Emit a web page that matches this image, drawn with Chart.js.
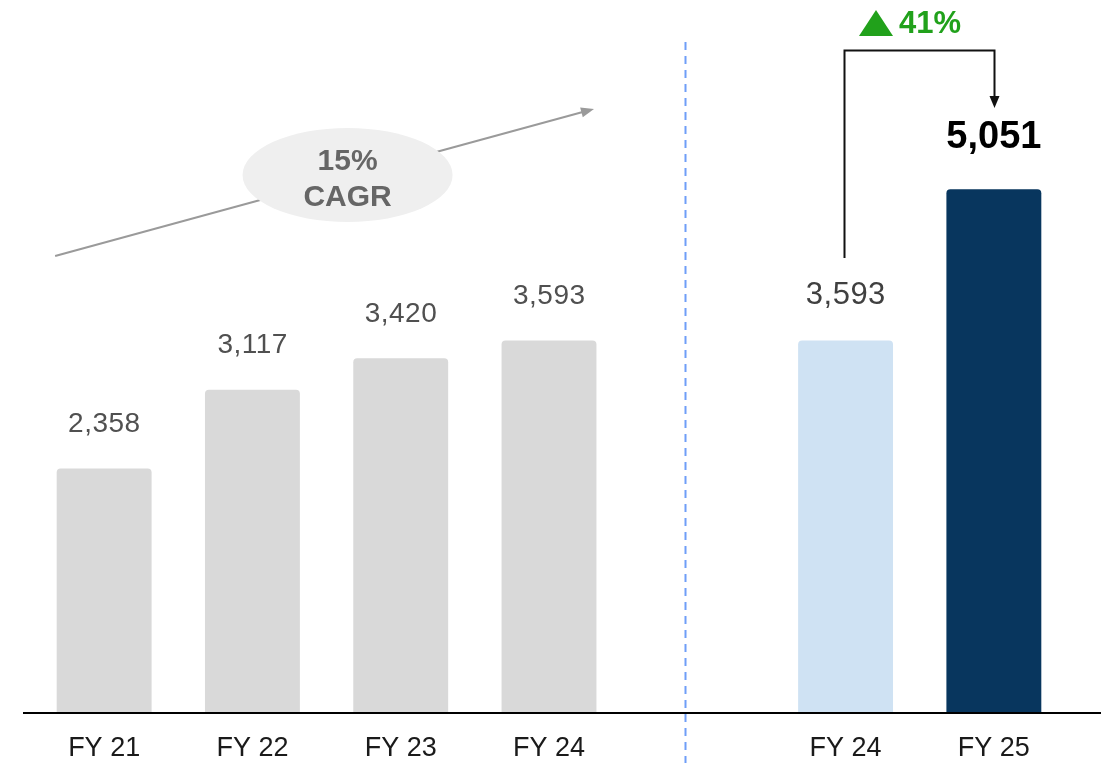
<!DOCTYPE html>
<html>
<head>
<meta charset="utf-8">
<script src="https://cdn.jsdelivr.net/npm/chart.js@4/dist/chart.umd.min.js"></script>
<style>
  html, body { margin: 0; padding: 0; background: #ffffff; }
  #wrap { width: 1101px; height: 763px; position: relative; }
</style>
</head>
<body>
<div id="wrap"><canvas id="chart"></canvas></div>
<script>
// Fiscal years: four-year history, an empty spacer slot, then the year-on-year pair
const categories = ['FY 21', 'FY 22', 'FY 23', 'FY 24', '', 'FY 24', 'FY 25'];
const values = [2358, 3117, 3420, 3593, null, 3593, 5051];
const valueLabels = ['2,358', '3,117', '3,420', '3,593', '', '3,593', '5,051'];
const cagrLabel = ['15%', 'CAGR'];
const growthLabel = '41%';

const FONT = '"Liberation Sans", Arial, Helvetica, sans-serif';
const barColors = ['#d9d9d9', '#d9d9d9', '#d9d9d9', '#d9d9d9', 'rgba(0,0,0,0)', '#cfe2f3', '#08365e'];

// Per-bar label look: size, weight, colour, gap above the bar top
const labelStyle = [
  { size: 28, weight: 'normal', color: '#505050', gap: 44, spacing: 0.5 },
  { size: 28, weight: 'normal', color: '#505050', gap: 44, spacing: 0.5 },
  { size: 28, weight: 'normal', color: '#505050', gap: 44, spacing: 0.5 },
  { size: 28, weight: 'normal', color: '#505050', gap: 44, spacing: 0.5 },
  null,
  { size: 31, weight: 'normal', color: '#404040', gap: 45, spacing: 0.5 },
  { size: 38, weight: 'bold',   color: '#000000', gap: 52, spacing: 0 }
];

function arrowHead(ctx, x1, y1, x2, y2, len, half) {
  const a = Math.atan2(y2 - y1, x2 - x1);
  ctx.beginPath();
  ctx.moveTo(x2, y2);
  ctx.lineTo(x2 - len * Math.cos(a) + half * Math.sin(a), y2 - len * Math.sin(a) - half * Math.cos(a));
  ctx.lineTo(x2 - len * Math.cos(a) - half * Math.sin(a), y2 - len * Math.sin(a) + half * Math.cos(a));
  ctx.closePath();
  ctx.fill();
}

const decorations = {
  id: 'decorations',
  beforeDatasetsDraw(chart) {
    const { ctx } = chart;
    const x = chart.scales.x;
    ctx.save();
    // dashed divider between history and comparison
    const dx = Math.round(x.getPixelForValue(3.92)) + 0.5;
    ctx.strokeStyle = '#6f9ef8';
    ctx.lineWidth = 2;
    ctx.setLineDash([8, 6]);
    ctx.beginPath();
    ctx.moveTo(dx, 42);
    ctx.lineTo(dx, chart.height);
    ctx.stroke();
    ctx.setLineDash([]);

    // CAGR trend arrow with oval badge
    const x0 = x.getPixelForValue(0) - 49, y0 = 256;
    const x1 = x.getPixelForValue(3) + 45, y1 = 109;
    const ang = Math.atan2(y1 - y0, x1 - x0);
    ctx.strokeStyle = '#9a9a9a';
    ctx.fillStyle = '#9a9a9a';
    ctx.lineWidth = 2;
    ctx.beginPath();
    ctx.moveTo(x0, y0);
    ctx.lineTo(x1 - 6 * Math.cos(ang), y1 - 6 * Math.sin(ang));
    ctx.stroke();
    arrowHead(ctx, x0, y0, x1, y1, 13, 5);

    const ex = (x.getPixelForValue(1) + x.getPixelForValue(2)) / 2 + 21;
    ctx.fillStyle = '#efefef';
    ctx.beginPath();
    ctx.ellipse(ex, 175, 105, 47, 0, 0, Math.PI * 2);
    ctx.fill();
    ctx.fillStyle = '#666666';
    ctx.font = 'bold 30px ' + FONT;
    ctx.textAlign = 'center';
    ctx.textBaseline = 'middle';
    ctx.fillText(cagrLabel[0], ex, 162);
    ctx.fillText(cagrLabel[1], ex, 198);
    ctx.restore();
  },
  afterDatasetsDraw(chart) {
    const { ctx } = chart;
    const meta = chart.getDatasetMeta(0);
    const y = chart.scales.y;
    ctx.save();
    // value labels above bars
    meta.data.forEach((bar, i) => {
      const s = labelStyle[i];
      if (!s || values[i] == null) return;
      ctx.font = s.weight + ' ' + s.size + 'px ' + FONT;
      ctx.letterSpacing = s.spacing + 'px';
      ctx.fillStyle = s.color;
      ctx.textAlign = 'center';
      ctx.textBaseline = 'middle';
      ctx.fillText(valueLabels[i], bar.x + s.spacing / 2, bar.y - s.gap);
    });
    ctx.letterSpacing = '0px';

    // baseline across the full width
    const by = Math.round(y.getPixelForValue(0));
    ctx.strokeStyle = '#000000';
    ctx.lineWidth = 2;
    ctx.beginPath();
    ctx.moveTo(23, by);
    ctx.lineTo(chart.width, by);
    ctx.stroke();

    // year-on-year bracket from FY 24 to FY 25
    const bl = meta.data[5], br = meta.data[6];
    const lx = Math.round(bl.x) - 2 + 0.5, rx = Math.round(br.x) + 0.5;
    const top = 50.5;
    ctx.strokeStyle = '#111111';
    ctx.fillStyle = '#111111';
    ctx.lineWidth = 2;
    ctx.beginPath();
    ctx.moveTo(lx, 258);
    ctx.lineTo(lx, top);
    ctx.lineTo(rx, top);
    ctx.lineTo(rx, 98);
    ctx.stroke();
    arrowHead(ctx, rx, top, rx, 108, 12, 5);

    // growth marker
    ctx.fillStyle = '#21a11b';
    ctx.beginPath();
    ctx.moveTo(859, 36);
    ctx.lineTo(893, 36);
    ctx.lineTo(876, 10);
    ctx.closePath();
    ctx.fill();
    ctx.font = 'bold 31px ' + FONT;
    ctx.textAlign = 'left';
    ctx.textBaseline = 'middle';
    ctx.fillText(growthLabel, 899, 24);
    ctx.restore();
  }
};

new Chart(document.getElementById('chart'), {
  type: 'bar',
  data: {
    labels: categories,
    datasets: [{
      data: values,
      backgroundColor: barColors,
      borderRadius: { topLeft: 4, topRight: 4, bottomLeft: 0, bottomRight: 0 },
      borderSkipped: 'bottom',
      barPercentage: 0.64,
      categoryPercentage: 1.0
    }]
  },
  options: {
    responsive: true,
    maintainAspectRatio: false,
    animation: false,
    events: [],
    layout: { padding: { left: 30, right: 33, top: 13, bottom: 0 } },
    plugins: { legend: { display: false }, tooltip: { enabled: false } },
    scales: {
      y: { display: false, min: 0, max: 6750 },
      x: {
        grid: { display: false, drawTicks: false },
        border: { display: false },
        ticks: {
          padding: 19,
          color: '#1a1a1a',
          font: { family: FONT, size: 27 }
        },
        afterFit(scale) { scale.height = 50; }
      }
    }
  },
  plugins: [decorations]
});
</script>
</body>
</html>
